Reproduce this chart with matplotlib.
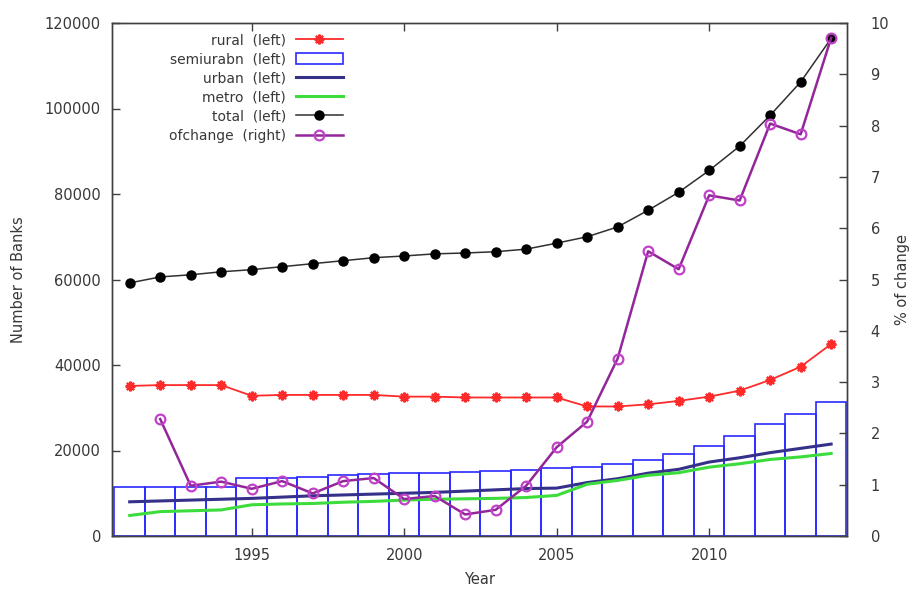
import matplotlib
matplotlib.use("Agg")
import matplotlib.pyplot as plt
from matplotlib.lines import Line2D
from matplotlib.patches import Patch

# Bank branch counts by population group, with yearly % change of the total
years = list(range(1991, 2015))
rural = [35100, 35300, 35300, 35300, 32800, 33000, 33000, 33000, 33000, 32600,
         32600, 32400, 32400, 32400, 32400, 30300, 30300, 30800, 31600, 32600,
         34000, 36500, 39600, 44900]
semiurban = [11500, 11500, 11500, 11500, 13500, 13500, 13900, 14300, 14400, 14700,
             14700, 14900, 15100, 15500, 15800, 16100, 16900, 17800, 19200, 21100,
             23400, 26200, 28600, 31400]
urban = [8000, 8200, 8400, 8600, 8800, 9100, 9400, 9600, 9800, 10000,
         10200, 10500, 10800, 11100, 11200, 12500, 13400, 14700, 15600, 17300,
         18300, 19500, 20500, 21500]
metro = [4800, 5700, 5900, 6100, 7300, 7500, 7600, 7900, 8100, 8400,
         8600, 8700, 8800, 9000, 9500, 12100, 13000, 14200, 14800, 16100,
         16900, 17900, 18500, 19300]
total = [59200, 60600, 61100, 61800, 62300, 63000, 63700, 64400, 65100, 65500,
         66000, 66200, 66500, 67100, 68500, 70000, 72300, 76200, 80400, 85500,
         91200, 98400, 106200, 116400]
change_years = years[1:]
pct_change = [2.28, 0.98, 1.06, 0.92, 1.07, 0.83, 1.07, 1.13, 0.72, 0.78,
              0.42, 0.51, 0.98, 1.73, 2.23, 3.46, 5.55, 5.20, 6.64, 6.54,
              8.04, 7.83, 9.71]

series_labels = ["rural  (left)", "semiurabn  (left)", "urban  (left)",
                 "metro  (left)", "total  (left)", "ofchange  (right)"]
x_ticks = [1995, 2000, 2005, 2010]
left_ticks = [0, 20000, 40000, 60000, 80000, 100000, 120000]
right_ticks = list(range(0, 11))

plt.rcParams["font.family"] = ["DejaVu Sans"]
axis_col = "#404040"
text_col = "#383838"

c_rural = "#ff2a2a"
c_semi = "#2a2aff"
c_urban = "#35308a"
c_metro = "#3ddc3d"
c_total = "#000000"
c_change = "#93279a"
c_change_mk = "#c040c8"

fig = plt.figure(figsize=(9.11, 5.91), dpi=100)
ax = fig.add_axes([112 / 911, 55 / 591, 735 / 911, 513 / 591])
ax2 = ax.twinx()

ax.bar(years, semiurban, width=1.0, facecolor="none", edgecolor=c_semi,
       linewidth=1.2, zorder=1)
ax.plot(years, urban, color=c_urban, lw=2.2, zorder=2)
ax.plot(years, metro, color=c_metro, lw=2.2, zorder=2)
ax.plot(years, rural, color=c_rural, lw=1.3, marker=(8, 2, 0), ms=7, mew=1.6,
        zorder=3)
ax.plot(years, total, color="#303030", lw=1.1, marker="o", ms=6.5,
        mfc=c_total, mec=c_total, zorder=3)
ax2.plot(change_years, pct_change, color=c_change, lw=1.8, marker="o", ms=7,
         mfc="none", mec=c_change_mk, mew=1.6, zorder=3)

ax.set_xlim(1990.42, 2014.52)
ax.set_ylim(0, 120000)
ax2.set_ylim(0, 10)

ax.set_xticks(x_ticks)
ax.set_yticks(left_ticks)
ax2.set_yticks(right_ticks)

for a in (ax, ax2):
    for sp in a.spines.values():
        sp.set_color(axis_col)
        sp.set_linewidth(1.0)

ax.tick_params(axis="x", direction="in", top=True, length=6, width=1,
               color=axis_col, labelcolor=text_col, labelsize=10.5, pad=9)
ax.tick_params(axis="y", direction="in", right=False, length=6, width=1,
               color=axis_col, labelcolor=text_col, labelsize=10.5, pad=8)
ax2.tick_params(axis="y", direction="in", length=6, width=1, color=axis_col,
                labelcolor=text_col, labelsize=10.5, pad=17)

ax.set_xlabel("Year", color=text_col, fontsize=10.5, labelpad=6)
ax.set_ylabel("Number of Banks", color=text_col, fontsize=10.5)
ax2.set_ylabel("% of change", color=text_col, fontsize=10.5)
ax.yaxis.set_label_coords(-0.117, 0.5)
ax2.yaxis.set_label_coords(1.0655, 0.5)

handles = [
    Line2D([], [], color=c_rural, lw=1.3, marker=(8, 2, 0), ms=7, mew=1.6),
    Patch(facecolor="none", edgecolor=c_semi, linewidth=1.2),
    Line2D([], [], color=c_urban, lw=2.2),
    Line2D([], [], color=c_metro, lw=2.2),
    Line2D([], [], color="#303030", lw=1.1, marker="o", ms=6.5, mfc=c_total,
           mec=c_total),
    Line2D([], [], color=c_change, lw=1.8, marker="o", ms=7, mfc="none",
           mec=c_change_mk, mew=1.6),
]
leg = ax2.legend(handles, series_labels, loc="upper right",
                 bbox_to_anchor=(343 / 911, 1 - 33 / 591),
                 bbox_transform=fig.transFigure, frameon=False,
                 markerfirst=False, fontsize=10, handlelength=3.4,
                 handleheight=0.8, handletextpad=0.7, labelspacing=0.37,
                 borderpad=0, borderaxespad=0)
for t in leg.get_texts():
    t.set_color(text_col)

fig.savefig("out.png", dpi=100)
